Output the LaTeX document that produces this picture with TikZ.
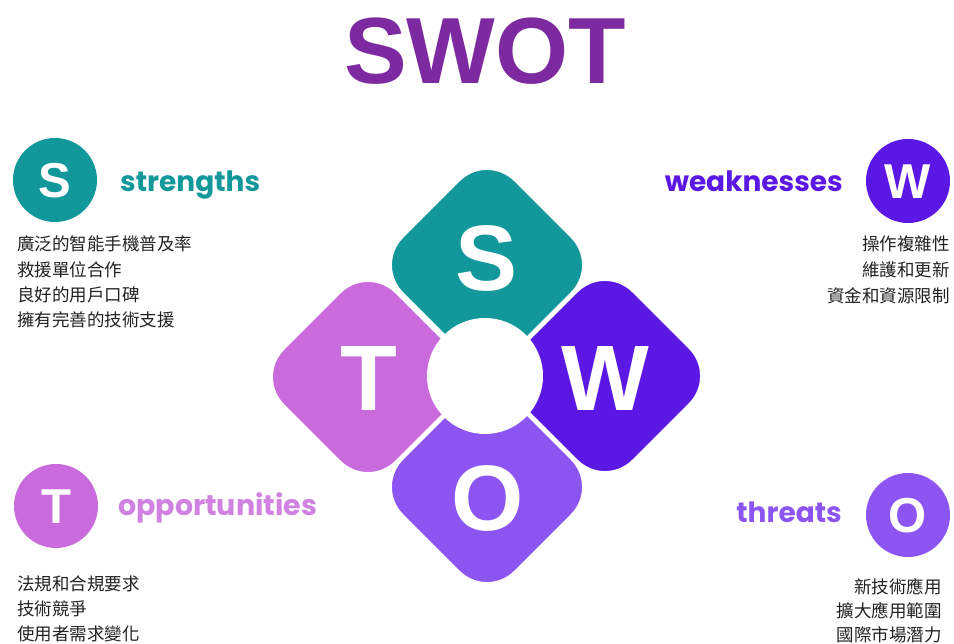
\documentclass[tikz,border=0pt]{standalone}
\usepackage{fontspec}
\setmainfont{Liberation Sans}
\newfontfamily\pop{Poppins}
\newfontfamily\cjk{Noto Sans CJK TC}
\definecolor{cS}{HTML}{12989A}
\definecolor{cW}{HTML}{5B17E3}
\definecolor{cT}{HTML}{C96BDC}
\definecolor{cO}{HTML}{8C55F2}
\definecolor{cTitle}{HTML}{7D2AA0}
\definecolor{cText}{HTML}{222222}
\tikzset{
  diam/.style={rectangle, minimum size=160pt, rounded corners=40pt, rotate=45, draw=white, line width=3pt, inner sep=0pt},
  bigletter/.style={text=white, font=\fontsize{93}{93}\selectfont\bfseries, anchor=base, inner sep=0pt},
  smallcirc/.style={circle, minimum size=84pt, inner sep=0pt},
  smallletter/.style={text=white, font=\fontsize{49}{49}\selectfont\bfseries, anchor=base, inner sep=0pt},
  heading/.style={font=\fontsize{28}{28}\selectfont\pop\bfseries, inner sep=0pt},
  item/.style={text=cText, font=\fontsize{17.5}{17.5}\selectfont\cjk, inner sep=0pt}
}
\begin{document}
\begin{tikzpicture}[x=1pt, y=-1pt]
\useasboundingbox (0,0) rectangle (954,644);
\fill[white] (0,0) rectangle (954,644);
% title
\node[text=cTitle, font=\fontsize{94}{94}\selectfont\bfseries, anchor=base, inner sep=0pt] (title) at (485,84) {SWOT};
% diamonds
\node[diam, fill=cS] (dS) at (487,265) {};
\node[diam, fill=cT] (dT) at (368,377) {};
\node[diam, fill=cW] (dW) at (605,376) {};
\node[diam, fill=cO] (dO) at (487,487) {};
\node[circle, fill=white, minimum size=116pt, inner sep=0pt] (core) at (485,376) {};
\node[bigletter] (lS) at (487,291) {S};
\node[bigletter] (lT) at (369,411) {T};
\node[bigletter] (lW) at (605,411) {W};
\node[bigletter] (lO) at (488,530) {O};
% corner circles
\node[smallcirc, fill=cS] (cs) at (55,180) {};
\node[smallletter] (csl) at (55,197.5) {S};
\node[smallcirc, fill=cW] (cw) at (908,181) {};
\node[smallletter] (cwl) at (908,198.5) {W};
\node[smallcirc, fill=cT] (ct) at (56,506) {};
\node[smallletter] (ctl) at (56,523.5) {T};
\node[smallcirc, fill=cO] (co) at (908,515) {};
\node[smallletter] (col) at (908,532.5) {O};
% headings
\node[heading, text=cS, anchor=base west] (hS) at (120,192) {strengths};
\node[heading, text=cW, anchor=base east] (hW) at (843,192) {weaknesses};
\node[heading, text=cT!85!white, anchor=base west, font=\fontsize{28.5}{28.5}\selectfont\pop\bfseries] (hT) at (118,515) {opportunities};
\node[heading, text=cO, anchor=base east] (hO) at (842,522) {threats};
% lists
\node[item, anchor=base west] (s1) at (17,251) {廣泛的智能手機普及率};
\node[item, anchor=base west] (s2) at (17,276.5) {救援單位合作};
\node[item, anchor=base west] (s3) at (17,302) {良好的用戶口碑};
\node[item, anchor=base west] (s4) at (17,327) {擁有完善的技術支援};
\node[item, anchor=base east] (w1) at (950,251) {操作複雜性};
\node[item, anchor=base east] (w2) at (950,277) {維護和更新};
\node[item, anchor=base east] (w3) at (950,303) {資金和資源限制};
\node[item, anchor=base west] (t1) at (17,590) {法規和合規要求};
\node[item, anchor=base west] (t2) at (17,615) {技術競爭};
\node[item, anchor=base west] (t3) at (17,640) {使用者需求變化};
\node[item, anchor=base east] (o1) at (942,593) {新技術應用};
\node[item, anchor=base east] (o2) at (942,617) {擴大應用範圍};
\node[item, anchor=base east] (o3) at (942,641) {國際市場潛力};
\end{tikzpicture}
\end{document}
